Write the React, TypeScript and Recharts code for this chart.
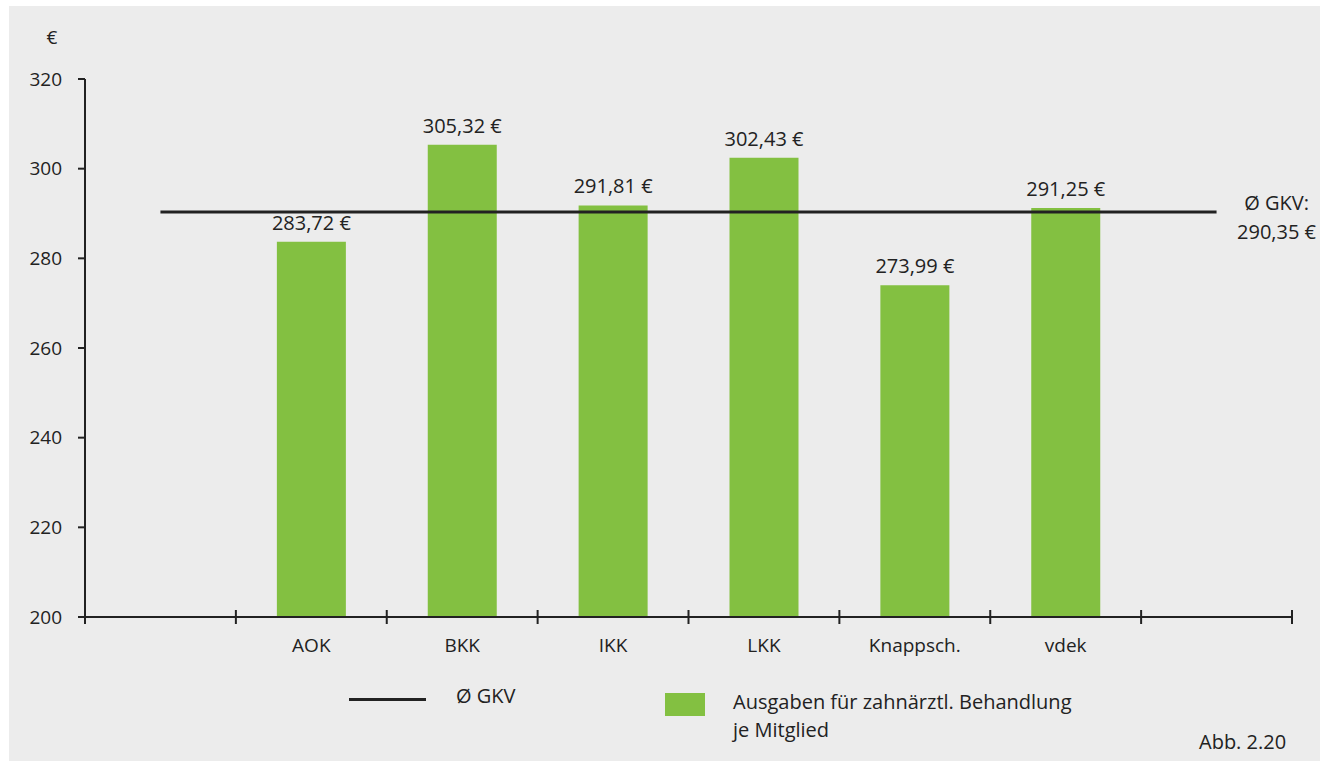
import React from "react";
import { ComposedChart, Bar, Line, XAxis, YAxis, LabelList, Legend } from "recharts";

const categories = ["", "AOK", "BKK", "IKK", "LKK", "Knappsch.", "vdek", ""];
const spending = [null, 283.72, 305.32, 291.81, 302.43, 273.99, 291.25, null];
const gkvAverage = 290.35;
const yTicks = [200, 220, 240, 260, 280, 300, 320];

const GREEN = "#83c041";
const INK = "#222222";
const FONT = "'Open Sans', sans-serif";

const data = categories.map((name, i) => ({
  name,
  value: spending[i],
  avg: gkvAverage,
}));

const euro = (v: number) => `${v.toFixed(2).replace(".", ",")} €`;

function BandTick(props: any) {
  const { x, y, payload, index, visibleTicksCount } = props;
  const half = payload.offset ?? 75;
  const last = index === visibleTicksCount - 1;
  return (
    <g>
      <line x1={x - half} x2={x - half} y1={y - 7} y2={y + 7} stroke={INK} strokeWidth={2} />
      {last && <line x1={x + half} x2={x + half} y1={y - 7} y2={y + 7} stroke={INK} strokeWidth={2} />}
      <text x={x} y={y + 35} textAnchor="middle" fill={INK} fontSize={19} fontFamily={FONT}>
        {payload.value}
      </text>
    </g>
  );
}

function AvgLabel(props: any) {
  const { x, y, index } = props;
  if (index !== categories.length - 1) return null;
  return (
    <text textAnchor="middle" fill={INK} fontSize={20} fontFamily={FONT}>
      <tspan x={x + 60} y={y - 2}>Ø GKV:</tspan>
      <tspan x={x + 60} y={y + 27}>{euro(gkvAverage)}</tspan>
    </text>
  );
}

function UnitLabel(props: any) {
  const { viewBox } = props;
  return (
    <text x={viewBox.x + 27} y={viewBox.y - 35} textAnchor="middle" fill={INK} fontSize={19} fontFamily={FONT}>
      €
    </text>
  );
}

function ChartLegend() {
  const txt: React.CSSProperties = { position: "absolute", color: INK, fontSize: 20, fontFamily: FONT, lineHeight: "28px", whiteSpace: "nowrap" };
  return (
    <div style={{ position: "relative", width: 800, height: 80 }}>
      <div style={{ position: "absolute", left: 9, top: 18, width: 77, height: 3, background: INK }} />
      <div style={{ ...txt, left: 116, top: 2 }}>Ø GKV</div>
      <div style={{ position: "absolute", left: 325, top: 13, width: 40, height: 23, background: GREEN }} />
      <div style={{ ...txt, left: 393, top: 8 }}>
        Ausgaben für zahnärztl. Behandlung
        <br />
        je Mitglied
      </div>
    </div>
  );
}

export default function App() {
  return (
    <div style={{ position: "absolute", left: 0, top: 0, width: 1328, height: 765, background: "#fff" }}>
      <div style={{ position: "absolute", left: 9, top: 6, width: 1311, height: 755, background: "#ececec" }} />
      <div style={{ position: "absolute", left: 0, top: 0 }}>
        <ComposedChart width={1328} height={765} data={data} margin={{ top: 79, right: 36, bottom: 0, left: 25 }}>
          <XAxis
            dataKey="name"
            height={68}
            axisLine={{ stroke: INK, strokeWidth: 2 }}
            tickLine={false}
            tickSize={0}
            tickMargin={0}
            tick={<BandTick />}
            interval={0}
          />
          <YAxis
            width={60}
            domain={[200, 320]}
            ticks={yTicks}
            interval={0}
            axisLine={{ stroke: INK, strokeWidth: 2 }}
            tickLine={{ stroke: INK, strokeWidth: 2 }}
            tickSize={7}
            tickMargin={16}
            tick={{ fill: INK, fontSize: 19, fontFamily: FONT }}
            label={<UnitLabel />}
          />
          <Legend
            content={<ChartLegend />}
            wrapperStyle={{ left: 340, top: 680, width: 800, height: 80 }}
          />
          <Bar dataKey="value" fill={GREEN} barSize={69} isAnimationActive={false}>
            <LabelList
              dataKey="value"
              position="top"
              offset={12}
              formatter={(v: any) => (v == null ? "" : euro(v))}
              fill={INK}
              fontSize={20}
              fontFamily={FONT}
            />
          </Bar>
          <Line
            dataKey="avg"
            stroke={INK}
            strokeWidth={3}
            dot={false}
            activeDot={false}
            isAnimationActive={false}
          >
            <LabelList dataKey="avg" content={<AvgLabel />} />
          </Line>
        </ComposedChart>
      </div>
      <div style={{ position: "absolute", left: 1199, top: 728, color: INK, fontSize: 20, fontFamily: FONT, lineHeight: "28px" }}>
        Abb. 2.20
      </div>
    </div>
  );
}
